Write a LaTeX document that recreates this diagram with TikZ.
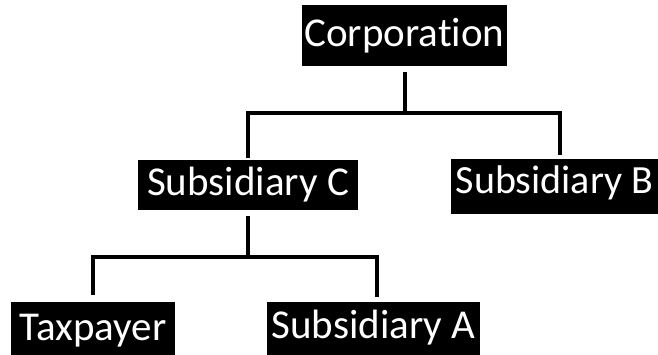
\documentclass[tikz,border=0pt]{standalone}
\usepackage{fontspec}
\setmainfont[Ligatures=NoCommon]{Carlito}
\usetikzlibrary{positioning,calc}

\begin{document}
\begin{tikzpicture}[x=1pt, y=-1pt,
    entity/.style={fill=black, text=white, inner sep=0pt,
        font=\fontsize{41}{49}\selectfont,
        text height=26pt, text depth=4pt, minimum height=54pt},
    link/.style={line width=4pt}]
    \useasboundingbox (0,0) rectangle (658,354);

    % Entités
    \node[entity, minimum width=205pt, minimum height=61pt] (corp) at (404.5,35.5) {Corporation};
    \node[entity, minimum width=220pt, minimum height=50pt, text depth=6pt] (subc) at (248,185) {Subsidiary C};
    \node[entity, minimum width=207pt, minimum height=55pt, text depth=12pt,
        font=\fontsize{40}{48}\selectfont] (subb) at (554.5,186.5) {Subsidiary B};
    \node[entity, minimum width=164pt] (tax) at (93,329) {Taxpayer};
    \node[entity, minimum width=213pt, text depth=8pt] (suba) at (373.5,329) {Subsidiary A};

    % Barres horizontales
    \coordinate (bus1) at (0,113);
    \coordinate (bus2) at (0,257);

    % Liens
    \draw[link] ([yshift=-6pt]corp.south) -- (corp.south |- bus1);
    \draw[link] ([yshift=2pt]subc.north) |- ([xshift=5.5pt]subb.north |- bus1) -- ([xshift=5.5pt,yshift=4pt]subb.north);
    \draw[link] ([yshift=-6pt]subc.south) -- (subc.south |- bus2);
    \draw[link] ([yshift=7pt]tax.north) |- ([xshift=3pt]suba.north |- bus2) -- ([xshift=3pt,yshift=5pt]suba.north);
\end{tikzpicture}
\end{document}
